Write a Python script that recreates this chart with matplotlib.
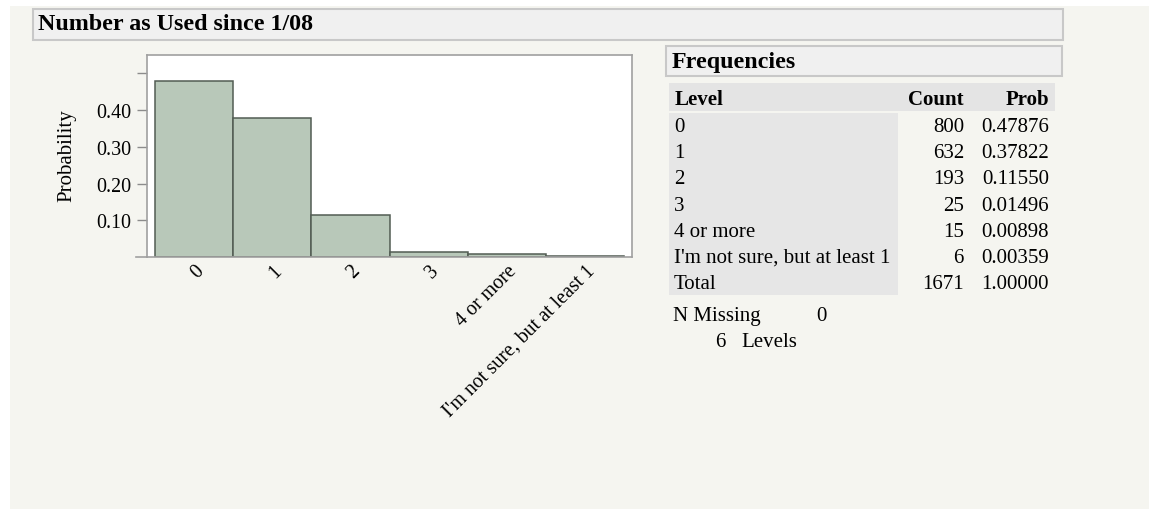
import matplotlib.pyplot as plt
import matplotlib.transforms as mtransforms
from matplotlib.patches import Rectangle

plt.rcParams['font.family'] = ['Liberation Serif', 'DejaVu Serif']

# Frequency table for "Number as Used since 1/08"
levels = ['0', '1', '2', '3', '4 or more', "I'm not sure, but at least 1"]
counts = [800, 632, 193, 25, 15, 6]
probs = [0.47876, 0.37822, 0.11550, 0.01496, 0.00898, 0.00359]
total_count = 1671
total_prob = 1.00000
n_missing = 0
ytick_vals = [0.1, 0.2, 0.3, 0.4, 0.5]
ytick_labels = ['0.10', '0.20', '0.30', '0.40', '']

W, H = 1149, 510
fig = plt.figure(figsize=(W / 100, H / 100), dpi=100, facecolor='white')

# page layer in pixel coordinates
bg = fig.add_axes([0, 0, 1, 1])
bg.set_xlim(0, W)
bg.set_ylim(H, 0)
bg.axis('off')

bg.add_patch(Rectangle((10, 7), W - 10, H - 7, facecolor='#F5F5F0', edgecolor='none'))

# report title bar
bg.add_patch(Rectangle((33, 10), 1030, 31, facecolor='#F0F0F0', edgecolor='#C8C8C8', lw=1.5))
bg.text(38, 30, 'Number as Used since 1/08', fontsize=17.3, fontweight='bold', va='baseline')

# frequencies section
bg.add_patch(Rectangle((666, 47), 396, 30, facecolor='#F0F0F0', edgecolor='#C8C8C8', lw=1.5))
bg.text(672, 68, 'Frequencies', fontsize=17.3, fontweight='bold', va='baseline')

bg.add_patch(Rectangle((669, 84), 386, 28, facecolor='#E4E4E4', edgecolor='none'))
bg.add_patch(Rectangle((669, 114), 229, 182, facecolor='#E6E6E6', edgecolor='none'))
bg.text(675, 105, 'Level', fontsize=15, fontweight='bold', va='baseline')
bg.text(964, 105, 'Count', fontsize=15, fontweight='bold', va='baseline', ha='right')
bg.text(1049, 105, 'Prob', fontsize=15, fontweight='bold', va='baseline', ha='right')

rows = list(zip(levels, counts, probs)) + [('Total', total_count, total_prob)]
for i, (lev, c, p) in enumerate(rows):
    yb = 132 + i * 26.2
    bg.text(674, yb, lev, fontsize=15, va='baseline')
    bg.text(964, yb, str(c), fontsize=15, va='baseline', ha='right')
    bg.text(1049, yb, f'{p:.5f}', fontsize=15, va='baseline', ha='right')

bg.text(673, 321, 'N Missing', fontsize=15, va='baseline')
bg.text(821, 321, str(n_missing), fontsize=15, va='baseline', ha='center')
bg.text(726, 347, '6', fontsize=15, va='baseline', ha='right')
bg.text(741, 347, 'Levels', fontsize=15, va='baseline')

bg.text(67, 156, 'Probability', fontsize=15, rotation=90, ha='center', va='center')
# axis line runs under the y tick marks
bg.plot([136, 147], [258, 258], color='#A0A0A0', lw=1.2)

# bar chart
left, right, top, bottom = 147, 632, 56, 258
ax = fig.add_axes([left / W, 1 - bottom / H, (right - left) / W, (bottom - top) / H])
ax.set_facecolor('white')
x = list(range(len(levels)))
ax.bar(x, probs, width=1.0, color='#B8C8B9', edgecolor='#525C53', linewidth=1.1)
ax.set_xlim(-0.6, len(levels) - 0.4)
ax.set_ylim(0, 0.55)

for s in ax.spines.values():
    s.set_color('#A0A0A0')
    s.set_linewidth(1.2)

ax.set_yticks(ytick_vals, ytick_labels, fontsize=14.4)
ax.tick_params(axis='y', length=7.5, width=1, color='#8C8C8C', pad=3.5)
ax.set_xticks(x, levels, fontsize=14.4, rotation=45, ha='right',
              va='center', rotation_mode='anchor')
ax.tick_params(axis='x', length=0, pad=8)
shift = mtransforms.ScaledTranslation(7 / 100, 0, fig.dpi_scale_trans)
for lab in ax.get_xticklabels():
    lab.set_transform(lab.get_transform() + shift)

fig.savefig('out.png', dpi=100, facecolor='white')
